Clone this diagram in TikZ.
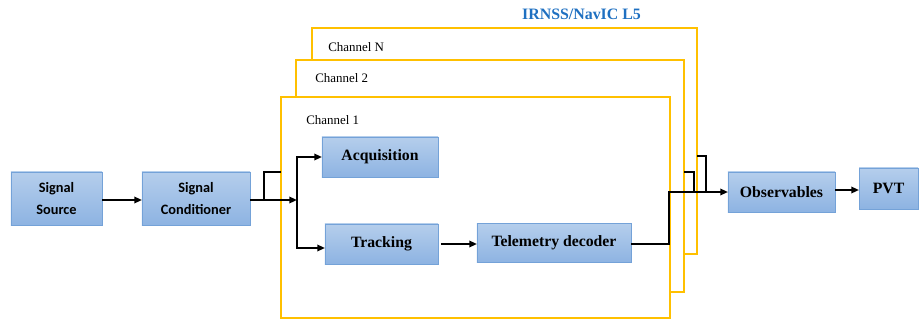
\documentclass[tikz,border=0pt]{standalone}
\usepackage{fontspec}
\setmainfont{Liberation Serif}
\newfontfamily\calibri{Carlito}
\usetikzlibrary{positioning}
\usetikzlibrary{arrows.meta}

\definecolor{boxtop}{HTML}{B5CEEC}
\definecolor{boxbot}{HTML}{8DB3E2}
\definecolor{boxline}{HTML}{74A2D8}
\definecolor{chanline}{HTML}{FFC000}
\definecolor{titleblue}{HTML}{1F70C1}

\begin{document}
\begin{tikzpicture}[
  x=0.025cm, y=-0.025cm,
  block/.style = {draw=boxline, line width=0.6pt, top color=boxtop, bottom color=boxbot,
                  inner sep=0pt, outer sep=0pt, align=center,
                  font=\fontsize{11.2}{13}\selectfont\bfseries},
  sblock/.style = {block, font=\fontsize{10.2}{15.6}\calibri\bfseries},
  chan/.style = {draw=chanline, line width=1.1pt, fill=white, inner sep=0pt, outer sep=0pt},
  chanlabel/.style = {anchor=west, inner sep=0pt, font=\fontsize{9.2}{11}\selectfont},
  line/.style = {line width=1.3pt},
  >={Triangle[length=5.5pt,width=4.6pt]}
]

  \useasboundingbox (0,0) rectangle (920,322);

  % channels, back to front
  \node[chan, minimum width=9.625cm, minimum height=5.65cm] (chN) at (504.5,141) {};
  \node[chan, minimum width=9.7cm, minimum height=5.8cm] (ch2) at (490,176) {};
  \node[chan, minimum width=9.725cm, minimum height=5.525cm] (ch1) at (475.5,207.5) {};

  \node[chanlabel] (labN) at (328,47) {Channel N};
  \node[chanlabel] (lab2) at (315,78) {Channel 2};
  \node[chanlabel] (lab1) at (306,120) {Channel 1};

  \node[font=\fontsize{11.3}{13}\selectfont\bfseries, text=titleblue] (title) at (581.5,14) {IRNSS/NavIC L5};

  % blocks
  \node[sblock, minimum width=2.275cm, minimum height=1.325cm] (src) at (56.5,198.5) {Signal\\Source};
  \node[sblock, minimum width=2.7cm, minimum height=1.325cm] (cond) at (196,198.5) {Signal\\Conditioner};
  \node[block, minimum width=2.9cm, minimum height=1.0cm] (acq) at (380,157) {Acquisition};
  \node[block, minimum width=2.825cm, minimum height=1.0cm] (trk) at (381.5,244) {Tracking};
  \node[block, minimum width=3.85cm, minimum height=0.975cm] (tel) at (554,243) {Telemetry decoder};
  \node[block, minimum width=2.675cm, minimum height=1.0cm] (obs) at (781.5,192) {Observables};
  \node[block, minimum width=1.475cm, minimum height=1.025cm] (pvt) at (888.5,188.5) {PVT};

  \coordinate (split) at (297,200);
  \coordinate (fork) at (264,200);
  \coordinate (in2) at (ch1.west |- 0,172);
  \coordinate (trkin) at (trk.west |- 0,248);
  \coordinate (join) at (669,192);
  \coordinate (out2) at (ch2.east |- 0,172);
  \coordinate (outN) at (chN.east |- 0,156);

  % connectors
  \draw[line,->] (src.east |- split) -- (cond.west |- split);
  \draw[line,->] (cond.east |- split) -- (split);
  \draw[line] (fork) |- (in2);
  \draw[line,->] (split) |- (acq.west);
  \draw[line,->] (split) |- (trkin);
  \draw[line,->] ([xshift=2pt]trk.east) -- (tel.west |- trk.east);
  \draw[line,->] (tel.east |- trk.east) -| (join) -- (obs.west);
  \draw[line] (out2) -| (694,192);
  \draw[line] (outN) -| (706,192);
  \draw[line,->] (obs.east |- 0,190) -- (pvt.west |- 0,190);

\end{tikzpicture}
\end{document}
